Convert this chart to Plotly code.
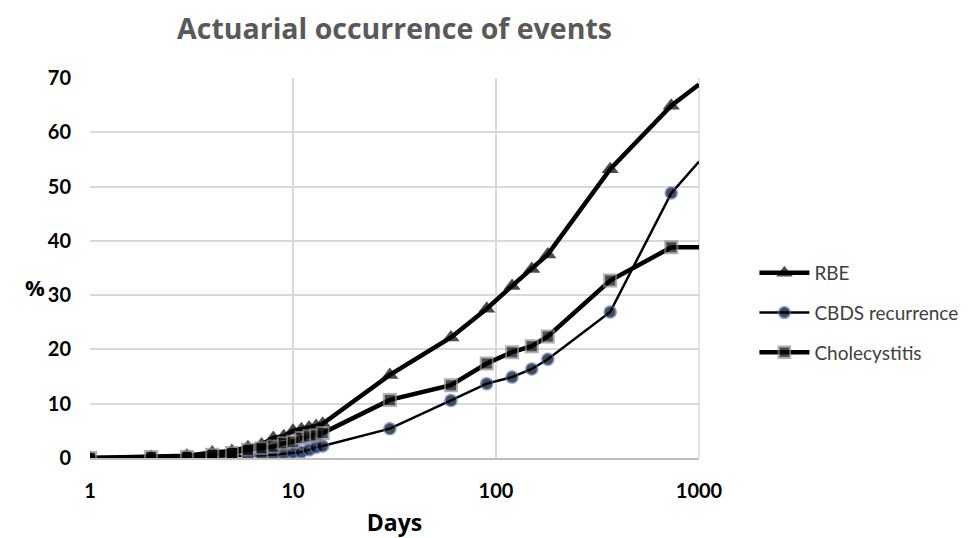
import plotly.graph_objects as go

days = [1, 2, 3, 4, 5, 6, 7, 8, 9, 10, 11, 12, 13, 14, 30, 60, 90, 120, 150, 180, 365, 730, 1000]
rbe = [0, 0.2, 0.4, 1.0, 1.3, 2.0, 2.5, 3.7, 4.0, 5.0, 5.3, 5.6, 5.9, 6.3, 15.3, 22.2, 27.5, 31.7, 34.8, 37.5, 53.2, 64.9, 68.8]
cbds = [0, 0.1, 0.3, 0.2, 0.3, 0.4, 0.5, 0.6, 0.8, 1.0, 1.1, 1.5, 2.0, 2.2, 5.4, 10.6, 13.7, 14.9, 16.4, 18.2, 26.9, 48.8, 54.6]
chole = [0, 0.2, 0.2, 0.6, 0.9, 1.5, 1.8, 2.1, 2.7, 3.0, 3.7, 4.0, 4.2, 4.6, 10.7, 13.4, 17.4, 19.5, 20.6, 22.4, 32.7, 38.8, 38.8]
y_ticks = [0, 10, 20, 30, 40, 50, 60, 70]
x_ticks = [1, 10, 100, 1000]

# last point sits on the right border; no marker drawn there (as in the original)
def sizes(n, s):
    return [s] * (n - 1) + [0]

n = len(days)
FONT = "Lato"
TFONT = "Open Sans"

fig = go.Figure()
fig.add_trace(go.Scatter(
    x=days, y=rbe, name="RBE", mode="lines+markers", legendgroup="a",
    line=dict(color="black", width=4.5),
    marker=dict(symbol="triangle-up", size=sizes(n, 15), color="black",
                line=dict(color="black", width=0)),
))
fig.add_trace(go.Scatter(
    x=days, y=cbds, name="CBDS recurrence", mode="lines+markers", legendgroup="b",
    line=dict(color="black", width=2.5),
    marker=dict(symbol="circle", size=sizes(n, 12), color="black",
                line=dict(color="#3a6fd8", width=1.5)),
))
fig.add_trace(go.Scatter(
    x=days, y=chole, name="Cholecystitis", mode="lines+markers", legendgroup="c",
    line=dict(color="black", width=4.5),
    marker=dict(symbol="square", size=sizes(n, 12), color="black",
                line=dict(color="#8c8c8c", width=2)),
))

fig.update_layout(
    width=977, height=538,
    margin=dict(l=90, r=278, t=78, b=80, autoexpand=False),
    paper_bgcolor="white", plot_bgcolor="white",
    font=dict(family=FONT, color="black"),
    title=dict(text="<b>Actuarial occurrence of events</b>", x=(90 + 699) / 2 / 977, xanchor="center",
               y=1 - 29 / 538, yanchor="middle",
               font=dict(family=TFONT, size=28.5, color="#595959")),
    legend=dict(x=1.091, y=(458 - 313) / 380, xanchor="left", yanchor="middle",
                font=dict(family=FONT, size=19, color="#404040"),
                itemwidth=50, tracegroupgap=12, bgcolor="rgba(0,0,0,0)"),
    showlegend=True,
)
fig.update_xaxes(
    type="log", range=[0, 3], tickvals=x_ticks, ticktext=[str(v) for v in x_ticks],
    showgrid=True, gridcolor="#d9d9d9", gridwidth=1.5,
    showline=True, linecolor="#bfbfbf", linewidth=2, mirror=False,
    zeroline=False, ticks="", ticklabelstandoff=14, automargin=False,
    tickfont=dict(family=FONT, size=20, color="black", weight="bold"),
    title=dict(text="<b>Days</b>", font=dict(family=TFONT, size=23, color="black"), standoff=16),
)
fig.update_yaxes(
    range=[0, 70], tickvals=y_ticks, automargin=False,
    showgrid=True, gridcolor="#d9d9d9", gridwidth=1.5,
    showline=False, zeroline=False, ticks="",
    tickfont=dict(family=FONT, size=20, color="black", weight="bold"),
    ticklabelstandoff=18,
)
# right border (gridline at 1000)
fig.add_shape(type="line", xref="paper", yref="paper", x0=1, x1=1, y0=0, y1=1,
              line=dict(color="#d9d9d9", width=1.5), layer="below")
fig.add_annotation(text="<b>%</b>", xref="paper", yref="paper", x=(23 - 90) / 609, y=(458 - 287) / 380,
                   showarrow=False, font=dict(family=TFONT, size=22, color="black"))

fig.write_html("out.html", config={"displayModeBar": False},
               post_script="document.body.style.margin='0';")
